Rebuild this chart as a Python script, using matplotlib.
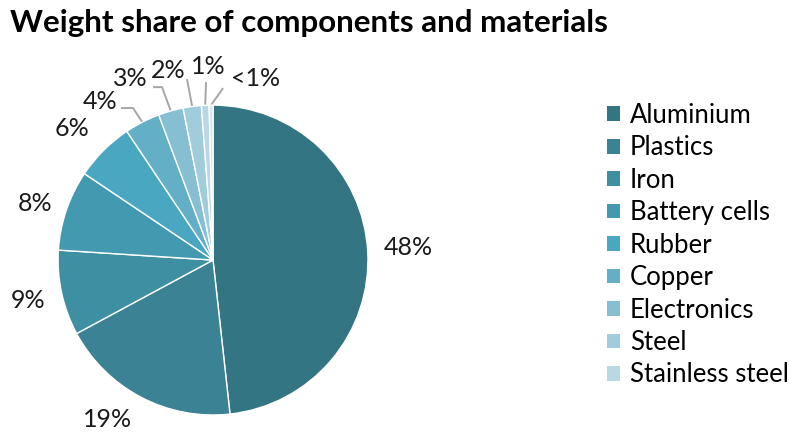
import matplotlib
matplotlib.use("Agg")
import matplotlib.pyplot as plt
import numpy as np

categories = ["Aluminium", "Plastics", "Iron", "Battery cells", "Rubber",
              "Copper", "Electronics", "Steel", "Stainless steel", "Other"]
values = [48.3, 18.9, 8.9, 8.4, 6.2, 3.7, 2.6, 1.9, 0.8, 0.4]
value_labels = ["48%", "19%", "9%", "8%", "6%", "4%", "3%", "2%", "1%", "<1%"]
colors = ["#347584", "#3a8294", "#3f8fa3", "#4299b0", "#49a7c1",
          "#63b0c6", "#86bfd1", "#a1ccdc", "#b9d8e3", "#d6e8ee"]
legend_count = 9

# layout: label centres (axes data units, radius 1 pie) and leader line starts/elbows
label_pos = [(1.258, 0.084), (-0.684, -1.032), (-1.194, -0.258), (-1.148, 0.368),
             (-0.910, 0.852), (-0.729, 1.026), (-0.535, 1.174), (-0.290, 1.226),
             (-0.032, 1.252), (0.277, 1.174)]
leader_start = [None, None, None, None, None,
                (-0.594, 0.981), (-0.387, 1.116), (-0.168, 1.168), (-0.045, 1.148), (0.065, 1.110)]
leader_elbow = [None, None, None, None, None,
                (-0.516, 0.981), (-0.329, 1.116), None, None, None]

plt.rcParams['font.family'] = ['Lato', 'DejaVu Sans']

fig = plt.figure(figsize=(7.91, 4.34), dpi=100)
ax = fig.add_axes([0.0733, 0.0438, 0.392, 0.714])

wedges, _ = ax.pie(values, colors=colors, startangle=90, counterclock=False,
                   wedgeprops=dict(edgecolor="white", linewidth=1.0))
ax.set_xlim(-1, 1)
ax.set_ylim(-1, 1)
ax.set_aspect("equal")

for w, lab, pos, st, el in zip(wedges, value_labels, label_pos, leader_start, leader_elbow):
    ax.text(pos[0], pos[1], lab, ha="center", va="center", fontsize=18,
            color="#1a1a1a", clip_on=False)
    if st is not None:
        mid = np.deg2rad((w.theta1 + w.theta2) / 2)
        end = (np.cos(mid), np.sin(mid))
        pts = [st] + ([el] if el is not None else []) + [end]
        xs, ys = zip(*pts)
        ax.plot(xs, ys, color="#a6a6a6", lw=1.4, clip_on=False, zorder=0.5,
                solid_capstyle="butt")

fig.text(0.013, 0.947, "Weight share of components and materials",
         fontsize=22.6, fontweight="bold", color="black", ha="left", va="center")

leg = fig.legend(wedges[:legend_count], categories[:legend_count],
                 loc="upper left", bbox_to_anchor=(0.767, 0.763),
                 frameon=False, fontsize=18.5, handlelength=0.5, handleheight=0.5,
                 handletextpad=0.4, labelspacing=0.29, borderpad=0, borderaxespad=0)
for h in leg.legend_handles:
    h.set_edgecolor("none")

fig.savefig("out.png", dpi=100)
